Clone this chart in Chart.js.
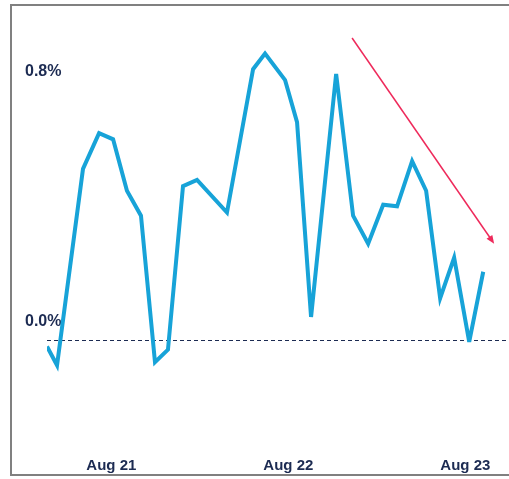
<!DOCTYPE html>
<html>
<head>
<meta charset="utf-8">
<script src="https://cdn.jsdelivr.net/npm/chart.js@4/dist/chart.umd.min.js"></script>
<style>
  html, body { margin: 0; padding: 0; background: #fff; }
  #wrap { position: relative; width: 509px; height: 479px; overflow: hidden; }
  #frame {
    position: absolute; left: 10px; top: 4px; width: 520px; height: 472px;
    border: 2px solid #808080; border-right: none; box-sizing: border-box;
  }
  canvas { position: absolute; left: 0; top: 0; }
</style>
</head>
<body>
<div id="wrap">
  <div id="frame"></div>
  <canvas id="chart" width="509" height="479"></canvas>
</div>
<script>
// months counted from Jan 2021
const months = [2.64, 3.32, 5.08, 6.17, 7.12, 8.06, 9.01, 9.96, 10.84, 11.86,
  12.81, 14.84, 16.61, 17.42, 18.78, 19.59, 20.54, 22.24, 23.39, 24.41,
  25.43, 26.37, 27.39, 28.34, 29.29, 30.24, 31.26, 32.21];
const values = [-0.02, -0.08, 0.55, 0.665, 0.645, 0.48, 0.40, -0.07, -0.03, 0.495,
  0.515, 0.41, 0.87, 0.92, 0.835, 0.70, 0.075, 0.855, 0.40, 0.31,
  0.435, 0.43, 0.575, 0.48, 0.135, 0.265, -0.005, 0.22];

const tickMonths = [7, 19, 31];
const tickLabels = ['Aug 21', 'Aug 22', 'Aug 23'];
const yTicks = [0, 0.8];

// downward trend arrow, [month, value]
const trendFrom = [23.32, 0.97];
const trendTo = [32.95, 0.31];

const navy = '#1c2b52';

// sharp spikes get a flat tip instead of a long miter
const joinLimit = {
  id: 'joinLimit',
  beforeDatasetsDraw(chart) { chart.ctx.miterLimit = 5; }
};

const trendArrow = {
  id: 'trendArrow',
  afterDatasetsDraw(chart) {
    const x = chart.scales.x, y = chart.scales.y, ctx = chart.ctx;
    const x1 = x.getPixelForValue(trendFrom[0]), y1 = y.getPixelForValue(trendFrom[1]);
    const x2 = x.getPixelForValue(trendTo[0]), y2 = y.getPixelForValue(trendTo[1]);
    const ang = Math.atan2(y2 - y1, x2 - x1);
    const head = 9;
    ctx.save();
    ctx.strokeStyle = '#ee2a5b';
    ctx.fillStyle = '#ee2a5b';
    ctx.lineWidth = 1.5;
    ctx.beginPath();
    ctx.moveTo(x1, y1);
    ctx.lineTo(x2 - Math.cos(ang) * head * 0.8, y2 - Math.sin(ang) * head * 0.8);
    ctx.stroke();
    ctx.beginPath();
    ctx.moveTo(x2, y2);
    ctx.lineTo(x2 - head * Math.cos(ang - 0.4), y2 - head * Math.sin(ang - 0.4));
    ctx.lineTo(x2 - head * Math.cos(ang + 0.4), y2 - head * Math.sin(ang + 0.4));
    ctx.closePath();
    ctx.fill();
    ctx.restore();
  }
};

new Chart(document.getElementById('chart'), {
  type: 'line',
  data: {
    datasets: [{
      data: months.map((m, i) => ({ x: m, y: values[i] })),
      borderColor: '#17a3d8',
      borderWidth: 4,
      borderJoinStyle: 'miter',
      pointRadius: 0,
      tension: 0
    }]
  },
  options: {
    responsive: false,
    animation: false,
    layout: { padding: { left: 25, right: 1, top: 10, bottom: 0 } },
    plugins: { legend: { display: false }, tooltip: { enabled: false } },
    scales: {
      x: {
        type: 'linear',
        min: 2.64,
        max: 33.89,
        afterFit(scale) { scale.height = 39; },
        afterBuildTicks(scale) { scale.ticks = tickMonths.map(v => ({ value: v })); },
        grid: { display: false },
        border: { display: false },
        ticks: {
          autoSkip: false,
          maxRotation: 0,
          padding: 9,
          color: navy,
          font: { family: 'Liberation Sans, Arial, sans-serif', size: 15, weight: 'bold' },
          callback: (v) => tickLabels[tickMonths.indexOf(v)]
        }
      },
      y: {
        min: -0.32,
        max: 1.06,
        afterFit(scale) { scale.width = 22; },
        afterBuildTicks(scale) { scale.ticks = yTicks.map(v => ({ value: v })); },
        grid: {
          drawTicks: false,
          lineWidth: 1,
          color: (c) => (c.tick && c.tick.value === 0 ? navy : 'rgba(0,0,0,0)')
        },
        border: { display: false, dash: [4, 3] },
        ticks: {
          mirror: true,
          padding: -22,
          labelOffset: -19,
          color: navy,
          font: { family: 'Liberation Sans, Arial, sans-serif', size: 16, weight: 'bold' },
          callback: (v) => v.toFixed(1) + '%'
        }
      }
    }
  },
  plugins: [joinLimit, trendArrow]
});
</script>
</body>
</html>
